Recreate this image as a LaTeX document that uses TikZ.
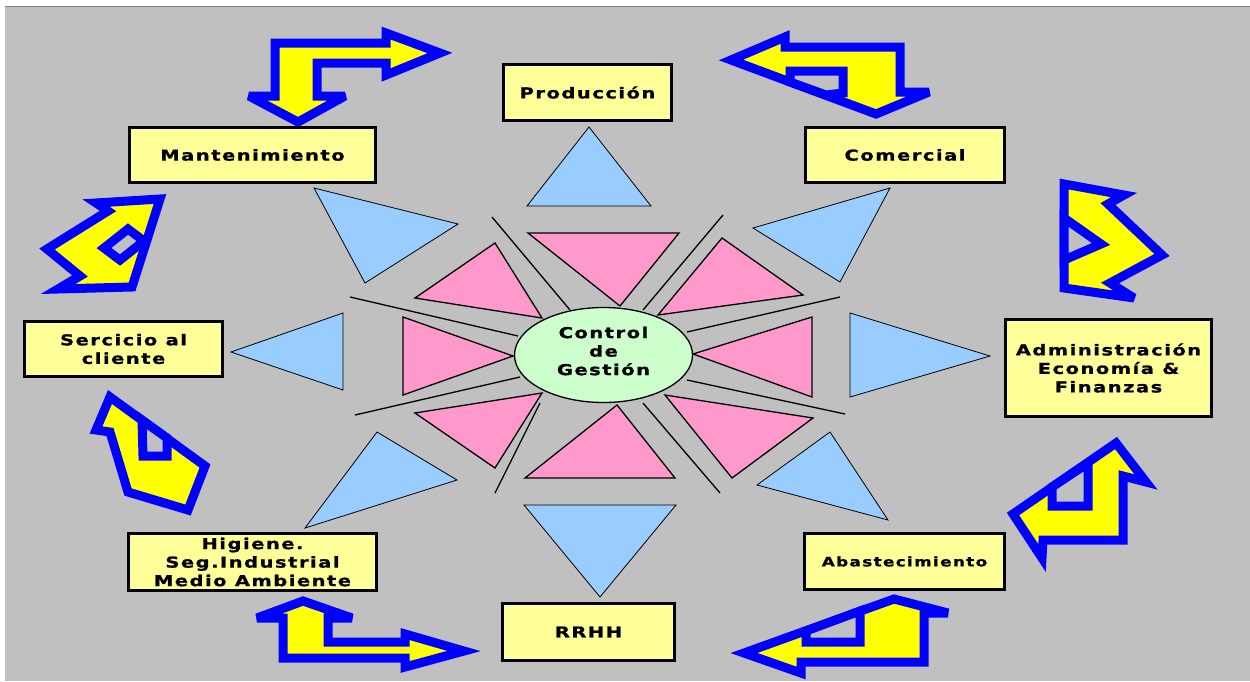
\documentclass[tikz,border=0pt]{standalone}
\usepackage{fontspec}
\usetikzlibrary{shapes.geometric}
\newfontfamily\lblfont{DejaVu Sans}[FakeStretch=1.3,LetterSpace=10,FakeBold=1]
\definecolor{bg}{HTML}{C0C0C0}
\definecolor{edgegray}{HTML}{808080}
\definecolor{boxyellow}{HTML}{FFFF99}
\definecolor{skyblue}{HTML}{99CCFF}
\definecolor{rose}{HTML}{FF99CC}
\definecolor{mint}{HTML}{CCFFCC}
\definecolor{arrowblue}{HTML}{0000FF}
\definecolor{arrowyellow}{HTML}{FFFF00}
\begin{document}
\begin{tikzpicture}[x=1pt,y=-1pt,
  dept/.style={draw=black, line width=3pt, fill=boxyellow, align=center,
    inner sep=0pt, font=\lblfont\bfseries\fontsize{15}{18.5}\selectfont},
  hub/.style={ellipse, draw=black, line width=1.3pt, fill=mint, inner sep=0pt},
  hubtext/.style={align=center, inner sep=0pt,
    font=\lblfont\bfseries\fontsize{15}{18.5}\selectfont},
  outtri/.style={fill=skyblue, draw=black, line width=0.8pt, line join=miter},
  intri/.style={fill=rose, draw=black, line width=1.3pt, line join=miter},
  spoke/.style={draw=black, line width=1.3pt},
  bentarrow/.style={fill=arrowyellow, draw=arrowblue, line width=9pt,
    line join=miter, miter limit=4},
  notch/.style={fill=bg, draw=arrowblue, line width=9pt, line join=miter}]

% page and grey panel
\useasboundingbox (0,0) rectangle (1250,681);
\fill[white] (0,0) rectangle (1250,681);
\fill[bg] (5,6) rectangle (1250,681);
\draw[edgegray, line width=1.6pt] (5,6.5) -- (1250,6.5);

% outer ring of pointing triangles
\path[outtri] (589,127) -- (651,206) -- (527,206) -- cycle;
\path[outtri] (600,597) -- (676,505) -- (524,505) -- cycle;
\path[outtri] (231,352) -- (343,313) -- (343,390) -- cycle;
\path[outtri] (990,356) -- (850,313) -- (850,397) -- cycle;
\path[outtri] (314,188) -- (458,224) -- (365,283) -- cycle;
\path[outtri] (890,188) -- (753,228) -- (840,282) -- cycle;
\path[outtri] (305,528) -- (377,432) -- (457,480) -- cycle;
\path[outtri] (888,520) -- (830,432) -- (757,485) -- cycle;

% inner ring of triangles around the hub
\path[intri] (528,233) -- (679,233) -- (620,306) -- cycle;
\path[intri] (525,478) -- (675,478) -- (617,405) -- cycle;
\path[intri] (403,317) -- (403,395) -- (513,356) -- cycle;
\path[intri] (812,317) -- (812,397) -- (693,354) -- cycle;
\path[intri] (415,298) -- (495,243) -- (542,318) -- cycle;
\path[intri] (722,238) -- (803,295) -- (658,315) -- cycle;
\path[intri] (415,413) -- (495,468) -- (542,393) -- cycle;
\path[intri] (665,395) -- (813,418) -- (732,478) -- cycle;

% hub
\node[hub, minimum width=178, minimum height=95] (cg) at (603.5,355) {};
\node[hubtext] (cgtext) at (603.5,351) {Control\\de\\Gestión};

% separating spokes
\coordinate (s1a) at (492,217); \coordinate (s1b) at (570,310);
\coordinate (s2a) at (723,215); \coordinate (s2b) at (643,310);
\coordinate (s3a) at (350,297); \coordinate (s3b) at (518,336);
\coordinate (s4a) at (355,415); \coordinate (s4b) at (520,377);
\coordinate (s5a) at (840,297); \coordinate (s5b) at (687,332);
\coordinate (s6a) at (845,414); \coordinate (s6b) at (687,380);
\coordinate (s7a) at (495,493); \coordinate (s7b) at (540,403);
\coordinate (s8a) at (720,493); \coordinate (s8b) at (643,403);
\foreach \p in {1,...,8} {\path[spoke] (s\p a) -- (s\p b);}

% bent double arrows between the departments
\path[bentarrow] (275,43) -- (386,43) -- (386,33) -- (440,53) -- (386,75)
  -- (386,63) -- (317,63) -- (317,96) -- (345,96) -- (298,122) -- (249,96)
  -- (275,96) -- cycle;

\path[bentarrow] (731,60) -- (785,37) -- (785,47) -- (900,47) -- (900,92)
  -- (929,92) -- (876,114) -- cycle;
\path[notch] (790,71) -- (843,71) -- (843,93) -- (826,95) -- (790,82) -- cycle;

\path[bentarrow] (1064,184) -- (1124,195) -- (1108,204) -- (1162,255)
  -- (1110,283) -- (1134,298) -- (1064,288) -- cycle;
\path[notch] (1064,218) -- (1101,244) -- (1064,260) -- cycle;

\path[bentarrow] (1116,443) -- (1146,482) -- (1123,476) -- (1123,540)
  -- (1043,540) -- (1042,558) -- (1013,514) -- cycle;
\path[notch] (1052,487) -- (1052,506) -- (1088,506) -- (1088,463) -- cycle;

\path[bentarrow] (894,599) -- (948,613) -- (924,613) -- (924,662)
  -- (801,662) -- (801,673) -- (744,653) -- cycle;
\path[notch] (806,631) -- (806,642) -- (860,642) -- (860,611) -- cycle;

\path[bentarrow] (303,601) -- (352,618) -- (328,618) -- (328,642)
  -- (405,642) -- (405,634) -- (464,651) -- (405,667) -- (405,658)
  -- (283,658) -- (283,618) -- (257,618) -- cycle;

\path[bentarrow] (110,397) -- (96,430) -- (110,432) -- (128,492)
  -- (188,510) -- (205,466) -- cycle;
\path[notch] (142,420) -- (143,456) -- (167,456) -- (167,438) -- cycle;

\path[bentarrow] (47,249) -- (108,211) -- (96,203) -- (160,199)
  -- (132,287) -- (58,289) -- (80,276) -- cycle;
\path[notch] (104,248) -- (128,229) -- (144,241) -- (120,260) -- cycle;

% departments
\node[dept, minimum width=168, minimum height=56] (prod) at (587.5,92.5) {Producción};
\node[dept, minimum width=246, minimum height=55] (mant) at (252.5,155) {Mantenimiento};
\node[dept, minimum width=199, minimum height=55] (com) at (905,155) {Comercial};
\node[dept, minimum width=198, minimum height=55] (serv) at (123.5,349) {Sercicio al\\cliente};
\node[dept, minimum width=206, minimum height=97] (adm) at (1108.5,368)
  {Administración\\Economía \&\\Finanzas};
\node[dept, minimum width=248, minimum height=57] (hig) at (252.5,562)
  {Higiene.\\Seg.Industrial\\Medio Ambiente};
\node[dept, minimum width=172, minimum height=57] (rrhh) at (588.5,632) {RRHH};
\node[dept, minimum width=200, minimum height=56,
  font=\lblfont\bfseries\fontsize{13}{16}\selectfont] (abas) at (904.5,561.5) {Abastecimiento};
\end{tikzpicture}
\end{document}
